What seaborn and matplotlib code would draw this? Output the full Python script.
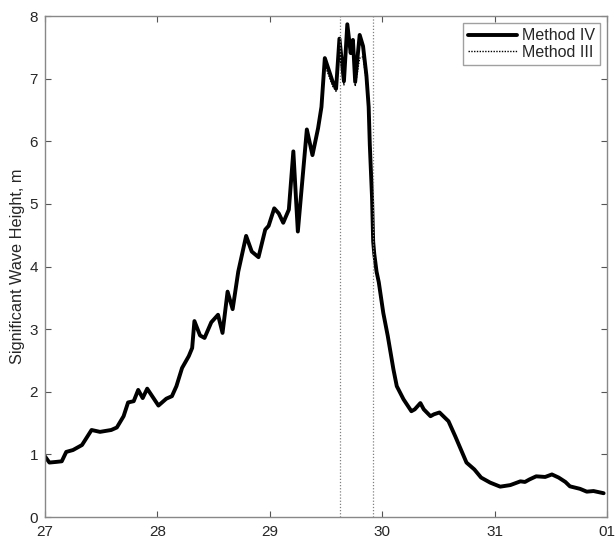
import matplotlib
matplotlib.use("Agg")
import matplotlib.pyplot as plt
import seaborn as sns
import pandas as pd

# time in days (27 = day 27, 32 = day 01 of next month)
t_iv = [0.00, 0.04, 0.10, 0.15, 0.19, 0.25, 0.33, 0.415, 0.49, 0.59, 0.64, 0.70, 0.74, 0.79,
        0.83, 0.87, 0.91, 1.01, 1.08, 1.13, 1.17, 1.22, 1.28, 1.31, 1.33, 1.38, 1.42, 1.48,
        1.54, 1.58, 1.625, 1.67, 1.72, 1.79, 1.84, 1.90, 1.96, 1.99, 2.04, 2.08, 2.12, 2.17,
        2.21, 2.25, 2.33, 2.38, 2.43, 2.46, 2.49, 2.56, 2.59, 2.62, 2.66, 2.69, 2.72, 2.74,
        2.76, 2.80, 2.83, 2.86, 2.88, 2.89, 2.91, 2.92, 2.93, 2.95, 2.97, 3.01, 3.05, 3.10,
        3.13, 3.19, 3.26, 3.29, 3.34, 3.37, 3.43, 3.46, 3.51, 3.59, 3.65, 3.75, 3.82, 3.88,
        3.96, 4.05, 4.14, 4.23, 4.27, 4.31, 4.37, 4.45, 4.51, 4.57, 4.63, 4.67, 4.76, 4.82,
        4.88, 4.97]
hs_iv = [0.97, 0.87, 0.88, 0.89, 1.04, 1.07, 1.15, 1.39, 1.36, 1.39, 1.43, 1.61, 1.83, 1.85,
         2.03, 1.90, 2.05, 1.78, 1.89, 1.93, 2.09, 2.38, 2.57, 2.70, 3.13, 2.90, 2.86, 3.11,
         3.23, 2.94, 3.60, 3.32, 3.92, 4.49, 4.24, 4.15, 4.59, 4.65, 4.93, 4.85, 4.70, 4.91,
         5.84, 4.56, 6.19, 5.78, 6.21, 6.55, 7.33, 6.95, 6.84, 7.64, 6.96, 7.87, 7.41, 7.62,
         6.95, 7.70, 7.52, 7.05, 6.55, 5.95, 5.10, 4.40, 4.20, 3.92, 3.75, 3.26, 2.89, 2.36,
         2.09, 1.88, 1.69, 1.72, 1.82, 1.72, 1.61, 1.64, 1.67, 1.53, 1.29, 0.87, 0.76, 0.63,
         0.55, 0.485, 0.51, 0.57, 0.56, 0.60, 0.65, 0.64, 0.68, 0.63, 0.56, 0.49, 0.45, 0.405,
         0.415, 0.38]

# Method III differs only around the peak
t_iii_peak = [2.46, 2.49, 2.56, 2.59, 2.62, 2.66, 2.69, 2.72, 2.74, 2.76, 2.80, 2.83, 2.86, 2.88]
hs_iii_peak = [6.50, 7.22, 6.88, 6.80, 7.55, 6.90, 7.80, 7.38, 7.55, 6.88, 7.33, 7.35, 6.95, 6.50]

t_marks = [29.625, 29.92]
x_ticks = [27, 28, 29, 30, 31, 32]
x_labels = ["27", "28", "29", "30", "31", "01"]
y_ticks = [0, 1, 2, 3, 4, 5, 6, 7, 8]

peak = dict(zip(t_iii_peak, hs_iii_peak))
hs_iii = [peak.get(t, h) for t, h in zip(t_iv, hs_iv)]

df_iv = pd.DataFrame({"day": [27 + t for t in t_iv], "hs": hs_iv})
df_iii = pd.DataFrame({"day": [27 + t for t in t_iv], "hs": hs_iii})

sns.set_theme(style="white")
plt.rcParams["font.family"] = ["Liberation Sans", "DejaVu Sans"]

fig = plt.figure(figsize=(6.15, 5.38), dpi=100)
ax = fig.add_axes([0.073, 0.039, 0.914, 0.931])

sns.lineplot(data=df_iv, x="day", y="hs", ax=ax, color="black", lw=2.8,
             label="Method IV", sort=False, estimator=None)
sns.lineplot(data=df_iii, x="day", y="hs", ax=ax, color="black", lw=1.0,
             linestyle=(0, (1, 1)), label="Method III", sort=False, estimator=None)

for xm in t_marks:
    ax.axvline(xm, color="#808080", lw=0.9, linestyle=(0, (1, 1.5)))

ax.set_xlim(27, 32)
ax.set_ylim(0, 8)
ax.set_xticks(x_ticks)
ax.set_xticklabels(x_labels)
ax.set_yticks(y_ticks)
ax.set_xlabel("")
ax.set_ylabel("Significant Wave Height, m", fontsize=11.7, labelpad=3)
ax.tick_params(direction="in", length=4, width=0.8, color="#555555",
               labelsize=11, top=True, right=True, bottom=True, left=True)
ax.tick_params(axis="x", pad=6)
ax.tick_params(axis="y", pad=5)
for s in ax.spines.values():
    s.set_color("#888888")
    s.set_linewidth(1.0)

leg = ax.legend(loc="upper right", fontsize=11.5, frameon=True, fancybox=False,
                edgecolor="#888888", handlelength=3.1, borderaxespad=0.45,
                borderpad=0.3, labelspacing=0.1, handletextpad=0.3)
leg.get_frame().set_linewidth(1.0)

fig.savefig("out.png", dpi=100)
